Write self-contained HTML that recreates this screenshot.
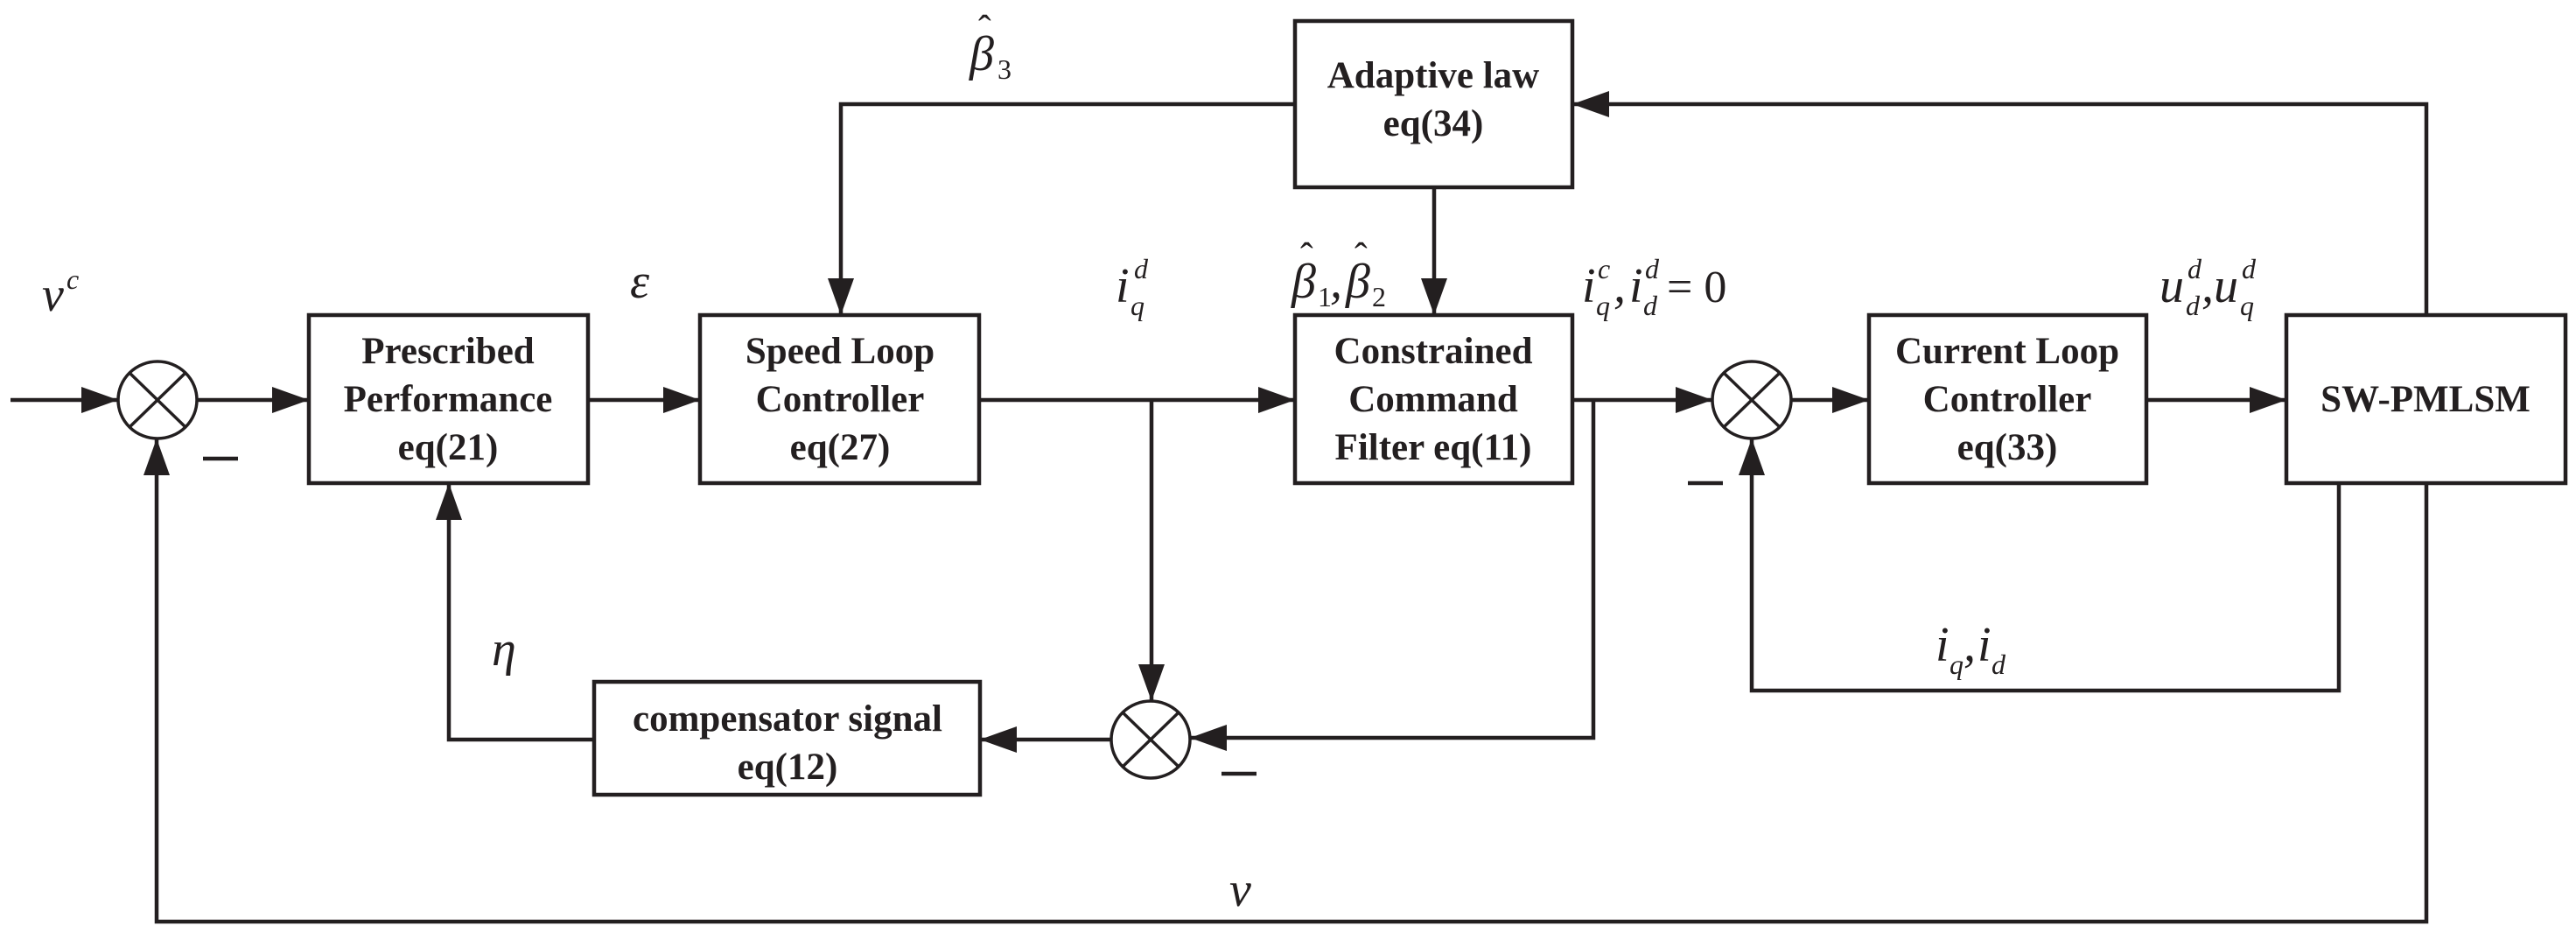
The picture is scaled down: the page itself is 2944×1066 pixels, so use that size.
<!DOCTYPE html>
<html><head><meta charset="utf-8"><style>
html,body{margin:0;padding:0;background:#fff}
svg{display:block}
.b{font-family:"Liberation Serif",serif;font-weight:bold;font-size:43px;fill:#231f20}
.m{font-family:"Liberation Serif",serif;font-style:italic;font-size:56px;fill:#231f20}
.s{font-family:"Liberation Serif",serif;font-style:italic;font-size:32px;fill:#231f20}
.n{font-family:"Liberation Serif",serif;font-size:32px;fill:#231f20}
.h{font-family:"Liberation Serif",serif;font-size:44px;fill:#231f20}
</style></head><body>
<svg width="2944" height="1066" viewBox="0 0 2944 1066" xmlns="http://www.w3.org/2000/svg">
<defs>
<marker id="a" markerWidth="42" markerHeight="30" refX="42" refY="15" orient="auto" markerUnits="userSpaceOnUse">
<path d="M0,0 L42,15 L0,30 Z" fill="#231f20"/></marker>
</defs>
<g stroke="#231f20" stroke-width="4.5" fill="none">
<rect x="353" y="360" width="319" height="192"/>
<rect x="800" y="360" width="319" height="192"/>
<rect x="1480" y="24" width="317" height="190"/>
<rect x="1480" y="360" width="317" height="192"/>
<rect x="2136" y="360" width="317" height="192"/>
<rect x="2613" y="360" width="319" height="192"/>
<rect x="679" y="779" width="441" height="129"/>
<g stroke-width="3.5">
<ellipse cx="180" cy="457" rx="45" ry="44"/>
<line x1="148" y1="426" x2="212" y2="488"/><line x1="212" y1="426" x2="148" y2="488"/>
<ellipse cx="1315" cy="845" rx="45" ry="44"/>
<line x1="1283" y1="814" x2="1347" y2="876"/><line x1="1347" y1="814" x2="1283" y2="876"/>
<ellipse cx="2002" cy="457" rx="45" ry="44"/>
<line x1="1970" y1="426" x2="2034" y2="488"/><line x1="2034" y1="426" x2="1970" y2="488"/>
</g>
<line x1="12" y1="457" x2="135" y2="457" marker-end="url(#a)"/>
<line x1="225" y1="457" x2="353" y2="457" marker-end="url(#a)"/>
<line x1="672" y1="457" x2="800" y2="457" marker-end="url(#a)"/>
<line x1="1119" y1="457" x2="1480" y2="457" marker-end="url(#a)"/>
<polyline points="1480,119 961,119 961,360" marker-end="url(#a)"/>
<line x1="1316" y1="457" x2="1316" y2="801" marker-end="url(#a)"/>
<polyline points="1797,457 1957,457" marker-end="url(#a)"/>
<polyline points="1821,457 1821,843 1360,843" marker-end="url(#a)"/>
<line x1="1270" y1="845" x2="1120" y2="845" marker-end="url(#a)"/>
<polyline points="679,845 513,845 513,552" marker-end="url(#a)"/>
<line x1="1639" y1="214" x2="1639" y2="360" marker-end="url(#a)"/>
<line x1="2047" y1="457" x2="2136" y2="457" marker-end="url(#a)"/>
<line x1="2453" y1="457" x2="2613" y2="457" marker-end="url(#a)"/>
<polyline points="2773,360 2773,119 1797,119" marker-end="url(#a)"/>
<polyline points="2673,552 2673,789 2002,789 2002,501" marker-end="url(#a)"/>
<polyline points="2773,552 2773,1053 179,1053 179,501" marker-end="url(#a)"/>
<line x1="232" y1="524" x2="272" y2="524"/>
<line x1="1396" y1="884" x2="1436" y2="884"/>
<line x1="1929" y1="552" x2="1969" y2="552"/>
</g>
<g class="b" text-anchor="middle">
<text x="512" y="415">Prescribed</text>
<text x="512" y="470">Performance</text>
<text x="512" y="525">eq(21)</text>
<text x="960" y="415">Speed Loop</text>
<text x="960" y="470">Controller</text>
<text x="960" y="525">eq(27)</text>
<text x="1638" y="100">Adaptive law</text>
<text x="1638" y="155">eq(34)</text>
<text x="1638" y="415">Constrained</text>
<text x="1638" y="470">Command</text>
<text x="1638" y="525">Filter eq(11)</text>
<text x="2294" y="415">Current Loop</text>
<text x="2294" y="470">Controller</text>
<text x="2294" y="525">eq(33)</text>
<text x="2772" y="470">SW-PMLSM</text>
<text x="900" y="835">compensator signal</text>
<text x="900" y="890">eq(12)</text>
</g>
<text class="m" x="48" y="355">v</text><text class="s" x="76" y="330">c</text>
<text class="m" x="720" y="340">ε</text>
<text class="m" x="1275" y="345">i</text><text class="s" x="1296" y="318">d</text><text class="s" x="1292" y="360">q</text>
<text class="m" x="1108" y="80">β</text><text class="h" x="1118" y="48">ˆ</text><text class="n" x="1140" y="90">3</text>
<text class="m" x="562" y="760">η</text>
<text class="m" x="1405" y="1035">v</text>
<text class="m" x="1476" y="340">β</text><text class="h" x="1486" y="308">ˆ</text><text class="n" x="1506" y="350">1</text>
<text class="m" x="1520" y="340">,</text>
<text class="m" x="1538" y="340">β</text><text class="h" x="1548" y="308">ˆ</text><text class="n" x="1568" y="350">2</text>
<text class="m" x="1808" y="345">i</text><text class="s" x="1826" y="318">c</text><text class="s" x="1824" y="360">q</text>
<text class="m" x="1844" y="345">,</text>
<text class="m" x="1862" y="345">i</text><text class="s" x="1880" y="318">d</text><text class="s" x="1878" y="360">d</text>
<text class="n" x="1905" y="345" style="font-size:52px">= 0</text>
<text class="m" x="2468" y="345">u</text><text class="s" x="2500" y="318">d</text><text class="s" x="2498" y="360">d</text>
<text class="m" x="2516" y="345">,</text>
<text class="m" x="2530" y="345">u</text><text class="s" x="2562" y="318">d</text><text class="s" x="2560" y="360">q</text>
<text class="m" x="2212" y="755">i</text><text class="s" x="2228" y="770">q</text>
<text class="m" x="2244" y="755">,</text>
<text class="m" x="2260" y="755">i</text><text class="s" x="2276" y="770">d</text>
</svg>
</body></html>
